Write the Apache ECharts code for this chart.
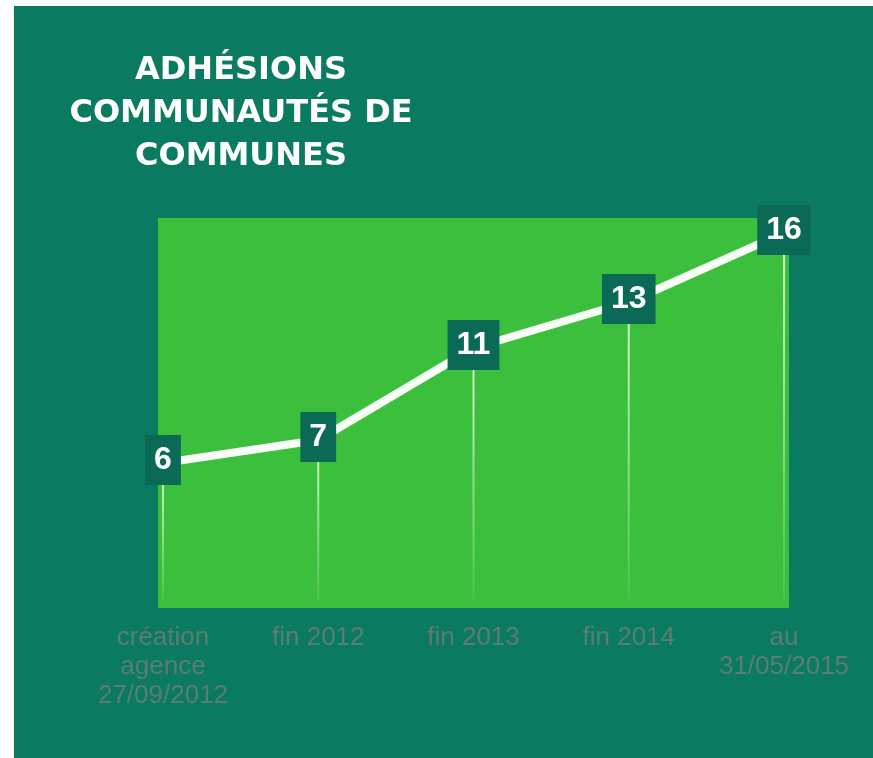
<!DOCTYPE html>
<html>
<head>
<meta charset="utf-8">
<script src="https://cdn.jsdelivr.net/npm/echarts@6/dist/echarts.min.js"></script>
<style>
  html, body { margin: 0; padding: 0; background: #ffffff; width: 873px; height: 758px; overflow: hidden; }
  #chart { position: absolute; left: 14px; top: 6px; width: 859px; height: 752px; }
</style>
</head>
<body>
<div id="chart"></div>
<script>
const titleText = 'ADHÉSIONS\nCOMMUNAUTÉS DE\nCOMMUNES';
const categories = ['création\nagence\n27/09/2012', 'fin 2012', 'fin 2013', 'fin 2014', 'au\n31/05/2015'];
const values = [6, 7, 11, 13, 16];
const positions = [0, 1, 2, 3, 4];

const pts = positions.map((p, i) => [p, values[i]]);

const chart = echarts.init(document.getElementById('chart'), null, { renderer: 'canvas' });
chart.setOption({
  backgroundColor: '#0a7a60',
  animation: false,
  title: {
    text: titleText,
    left: 222,
    top: 38,
    textAlign: 'center',
    textStyle: {
      color: '#ffffff',
      fontFamily: 'DejaVu Sans',
      fontWeight: 'bold',
      fontSize: 32,
      lineHeight: 43
    }
  },
  grid: {
    left: 144, right: 84, top: 212, bottom: 150,
    show: true,
    backgroundColor: '#3dbf3e',
    borderWidth: 0
  },
  xAxis: {
    type: 'value',
    min: -0.0322,
    max: 4.0322,
    axisLine: { show: false },
    axisTick: { show: false },
    splitLine: { show: false },
    axisLabel: {
      customValues: positions,
      formatter: v => categories[Math.round(v)],
      color: '#5c7d71',
      fontFamily: 'Liberation Sans',
      fontSize: 26,
      lineHeight: 29,
      margin: 15
    }
  },
  yAxis: {
    type: 'value',
    min: -0.3,
    max: 16.65,
    show: false,
    splitLine: { show: false }
  },
  series: [
    {
      type: 'bar',
      data: pts,
      barWidth: 2,
      z: 1,
      silent: true,
      itemStyle: {
        color: new echarts.graphic.LinearGradient(0, 0, 0, 1, [
          { offset: 0, color: 'rgba(235,255,225,0.9)' },
          { offset: 1, color: 'rgba(235,255,225,0.08)' }
        ])
      }
    },
    {
      type: 'line',
      data: pts,
      z: 3,
      symbol: 'circle',
      symbolSize: 1,
      showSymbol: true,
      itemStyle: { color: '#f8fff6' },
      lineStyle: { color: '#f8fff6', width: 8 },
      label: {
        show: true,
        position: 'inside',
        offset: [0, -3],
        formatter: p => String(p.value[1]),
        color: '#ffffff',
        fontFamily: 'Liberation Sans',
        fontWeight: 'bold',
        fontSize: 32,
        backgroundColor: '#0b6a55',
        padding: [10, 9, 8, 9]
      }
    }
  ]
});
</script>
</body>
</html>
